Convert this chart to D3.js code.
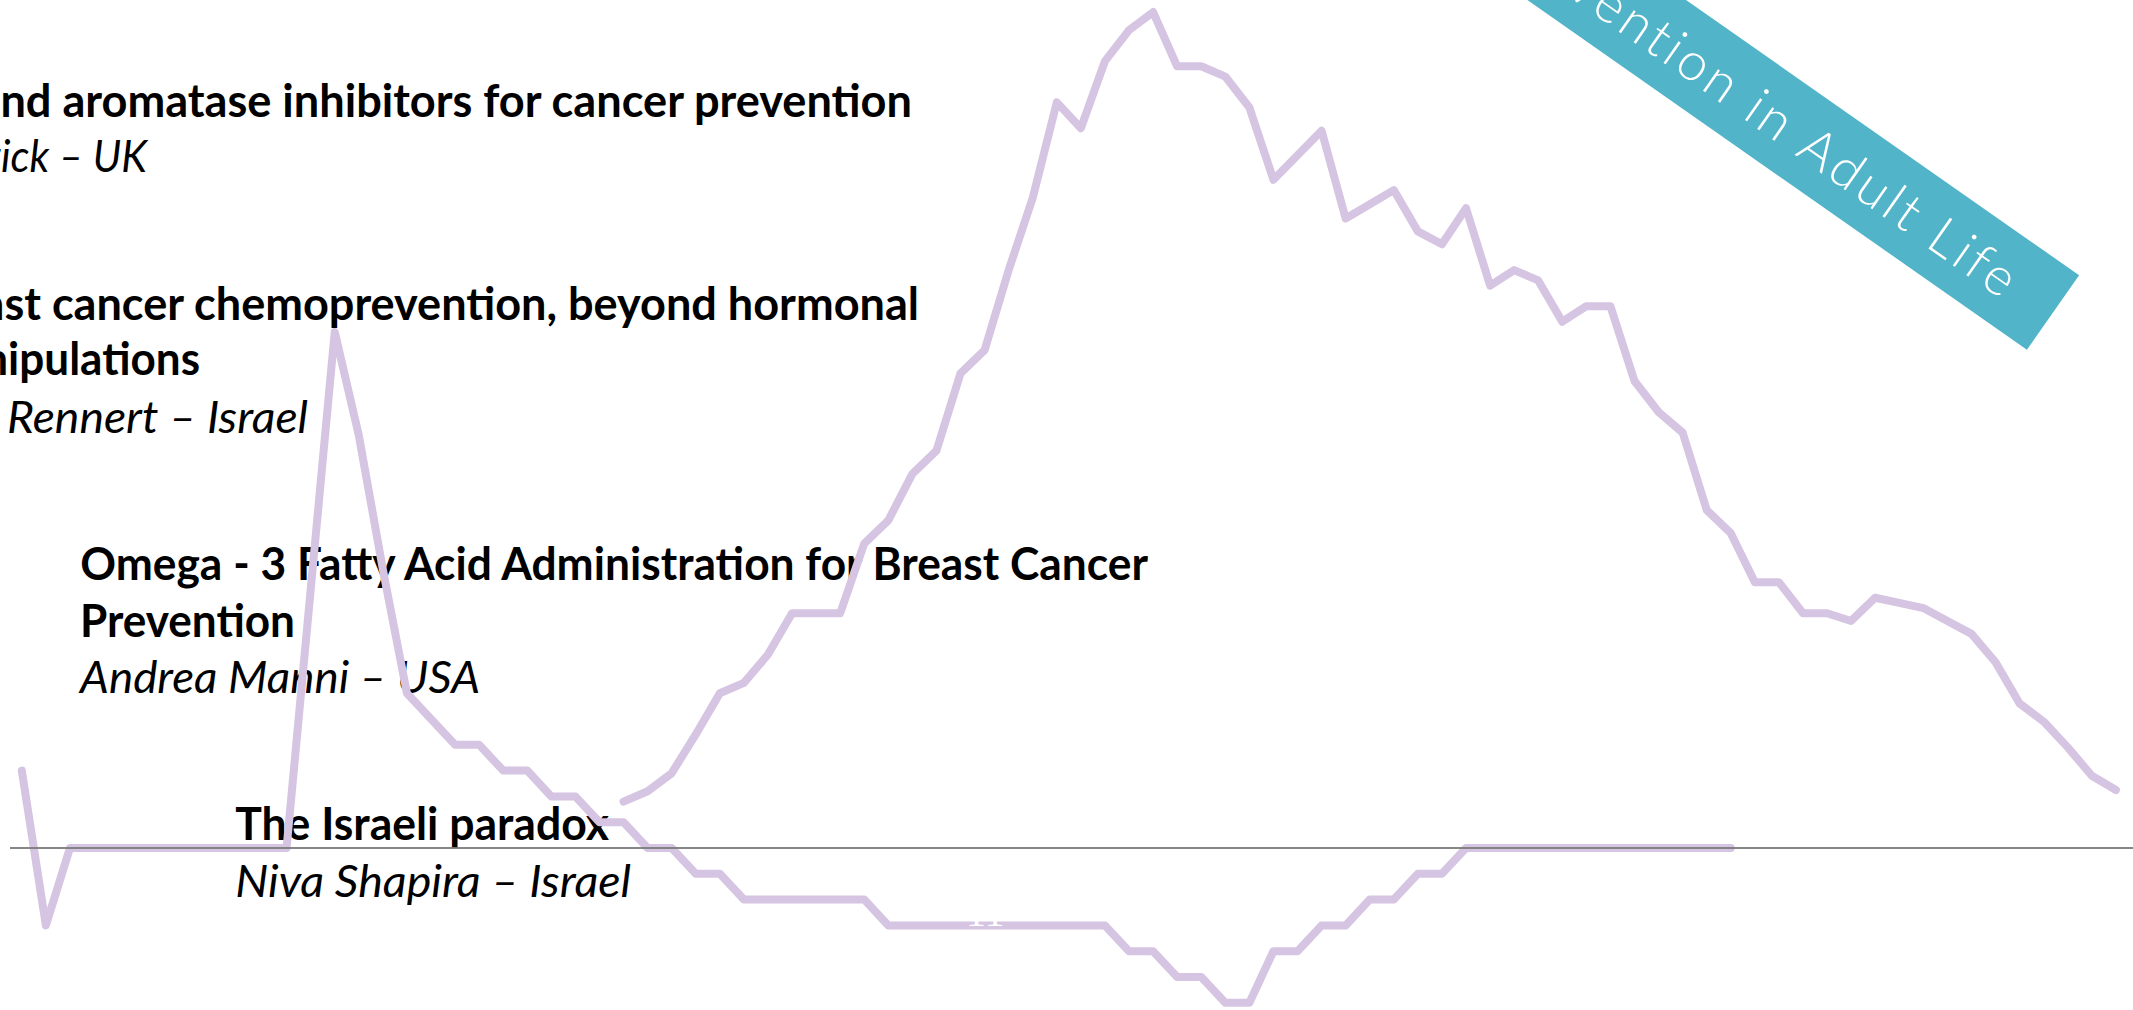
<!DOCTYPE html>
<html>
<head>
<meta charset="utf-8">
<script src="https://cdn.jsdelivr.net/npm/d3@7"></script>
<style>
html,body{margin:0;padding:0;background:#fff;overflow:hidden}
svg{display:block}
</style>
</head>
<body>
<svg id="c" width="2133" height="1010"></svg>
<script>
// ---- data ----
const idx1 = [0,1,2,11,13,14,15,16,18,19,20,21,22,23,24,25,26,27,28,29,30,35,36,45,46,47,48,49,50,51,52,53,54,55,56,57,58,59,60,71];
const val1 = [3,-3,0,0,20,16,10.8,6,4,4,3,3,2,2,1,1,0,0,-1,-1,-2,-2,-3,-3,-4,-4,-5,-5,-6,-6,-4,-4,-3,-3,-2,-2,-1,-1,0,0];
const idx2 = [25,26,27,28,29,30,31,32,34,35,36,37,38,39,40,41,42,43,44,45,46,47,48,49,50,51,52,54,55,57,58,59,60,61,62,63,64,65,66,67,68,69,70,71,72,73,74,75,76,77,78,79,80,81,82,83,84,85,86,87];
const val2 = [1.8,2.2,2.9,4.4,6.0,6.4,7.5,9.1,9.1,11.8,12.7,14.5,15.4,18.4,19.3,22.4,25.2,28.9,27.9,30.5,31.7,32.4,30.3,30.3,29.9,28.7,25.9,27.8,24.4,25.5,23.9,23.4,24.8,21.8,22.4,22.0,20.4,21.0,21.0,18.1,16.9,16.1,13.1,12.2,10.3,10.3,9.1,9.1,8.8,9.7,9.5,9.3,8.8,8.3,7.2,5.6,4.9,3.9,2.8,2.25];

const titles = ["Tamoxifen and aromatase inhibitors for cancer prevention", "Breast cancer chemoprevention, beyond hormonal", "manipulations", "Omega - 3 Fatty Acid Administration for Breast Cancer", "Prevention", "The Israeli paradox"];
const speakers = ["Jack Cuzick – UK", "Gad Rennert – Israel", "Andrea Manni – USA", "Niva Shapira – Israel"];
const bannerText = "Prevention in Adult Life";
const pageNumber = "11";

// ---- layout ----
const svg = d3.select("#c");
const x = d3.scaleLinear().domain([0, 87]).range([21.8, 2115.9]);
const y = d3.scaleLinear().domain([0, 20]).range([848, 332]);

const FONT = "Lato, 'Open Sans', sans-serif";

const textItems = [
  {s: titles[0], vis: "nd aromatase inhibitors for cancer prevention", x0: 0, x1: 912, y: 117, b: true},
  {s: speakers[0], vis: "ick – UK", x0: 1, x1: 147, y: 172, i: true},
  {s: titles[1], vis: "st cancer chemoprevention, beyond hormonal", x0: 4, x1: 919, y: 320, b: true},
  {s: titles[2], vis: "ipulations", x0: 8, x1: 200, y: 375, b: true},
  {s: speakers[1], vis: "Rennert – Israel", x0: 7, x1: 308, y: 433, i: true},
  {s: titles[3], x0: 80, x1: 1148, y: 580, b: true},
  {s: titles[4], x0: 80, x1: 295, y: 637, b: true},
  {s: speakers[2], x0: 80, x1: 480, y: 693, i: true},
  {s: titles[5], x0: 235, x1: 609, y: 840, b: true},
  {s: speakers[3], x0: 235, x1: 631, y: 897, i: true}
];

function styleText(sel, t) {
  sel.attr("font-family", FONT)
     .attr("font-size", 45)
     .attr("font-weight", t.b ? 700 : 400)
     .attr("font-style", t.i ? "italic" : "normal")
     .attr("fill", "#000");
}

const textLayer = svg.append("g");
textItems.forEach(t => {
  const tmp = textLayer.append("text").call(styleText, t).text(t.vis || t.s);
  const w = tmp.node().getComputedTextLength();
  tmp.remove();
  const sx = (t.x1 - t.x0) / w;
  const g = textLayer.append("g").attr("transform", `translate(${t.x1},${t.y}) scale(${sx},1)`);
  g.append("text").call(styleText, t).attr("text-anchor", "end").attr("x", 0).attr("y", 0).text(t.s);
});

// ---- lines ----
const line = d3.line().x(d => x(d[0])).y(d => y(d[1]));
const lineLayer = svg.append("g")
  .attr("fill", "none")
  .attr("stroke", "#D5C4E2")
  .attr("stroke-width", 8)
  .attr("stroke-linejoin", "round")
  .attr("stroke-linecap", "round");
lineLayer.append("path").attr("d", line(d3.zip(idx1, val1)));
lineLayer.append("path").attr("d", line(d3.zip(idx2, val2)));

// baseline rule
svg.append("line")
  .attr("x1", 10).attr("x2", 2133)
  .attr("y1", y(0)).attr("y2", y(0))
  .attr("stroke", "#7A7A7A").attr("stroke-width", 2).attr("opacity", 0.9);

// white page number (mostly invisible on white)
svg.append("text")
  .attr("x", 966).attr("y", 926)
  .attr("font-family", "'Liberation Serif', serif")
  .attr("font-size", 40)
  .attr("fill", "#fff")
  .text(pageNumber);

// ---- banner ----
const bg = svg.append("g").attr("transform", "translate(2053,312.5) rotate(35)");
bg.append("rect")
  .attr("x", -1200).attr("y", -45.5)
  .attr("width", 1200).attr("height", 91)
  .attr("fill", "#52B4C8");
const bStyle = sel => sel.attr("font-family", FONT).attr("font-weight", 300).attr("font-size", 53).attr("fill", "#fff");
const tmpB = bg.append("text").call(bStyle).text("vention in Adult Life");
const wB = tmpB.node().getComputedTextLength();
tmpB.remove();
const ls = (533 - wB) / 20;
bg.append("text").call(bStyle)
  .attr("letter-spacing", ls)
  .attr("text-anchor", "end")
  .attr("x", -50 + ls).attr("y", 19)
  .text(bannerText);
</script>
</body>
</html>
